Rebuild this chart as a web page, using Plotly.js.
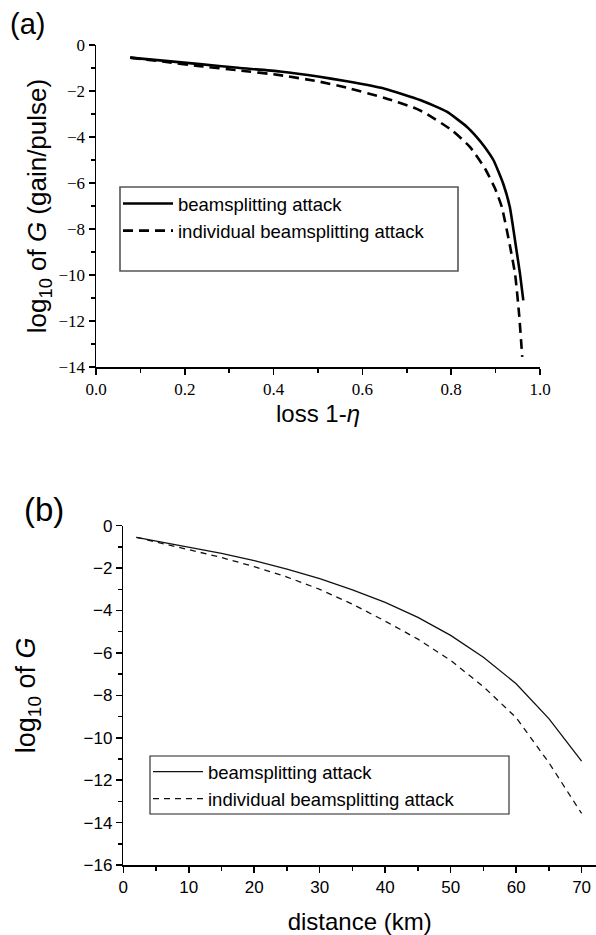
<!DOCTYPE html>
<html>
<head>
<meta charset="utf-8">
<script src="https://cdn.plot.ly/plotly-3.0.1.min.js"></script>
<style>html,body{margin:0;padding:0;background:#fff;}#chart{width:596px;height:935px;}</style>
</head>
<body>
<div id="chart"></div>
<script>
// Panel (a): gain vs loss 1-eta
var lossSolid = [0.077, 0.15, 0.234, 0.32, 0.414, 0.50, 0.565, 0.65, 0.73, 0.79, 0.835, 0.857, 0.875, 0.895, 0.917, 0.932, 0.947, 0.955, 0.9624];
var gainSolid = [-0.55, -0.68, -0.83, -0.99, -1.15, -1.37, -1.58, -1.90, -2.39, -2.90, -3.55, -3.99, -4.42, -5.00, -6.02, -7.04, -8.92, -9.95, -11.1];
var lossDashed = [0.077, 0.15, 0.234, 0.32, 0.414, 0.50, 0.565, 0.65, 0.715, 0.741, 0.801, 0.842, 0.876, 0.899, 0.914, 0.932, 0.944, 0.953, 0.960];
var gainDashed = [-0.55, -0.72, -0.92, -1.10, -1.31, -1.58, -1.86, -2.30, -2.72, -2.95, -3.70, -4.43, -5.37, -6.25, -7.05, -8.70, -9.98, -11.72, -13.56];

// Panel (b): gain vs distance (km)
var distance = [2, 5, 10, 15, 20, 25, 30, 35, 40, 45, 50, 55, 60, 65, 70];
var gainDistSolid = [-0.55, -0.72, -1.00, -1.30, -1.65, -2.05, -2.50, -3.03, -3.62, -4.32, -5.17, -6.20, -7.45, -9.10, -11.1];
var gainDistDashed = [-0.55, -0.78, -1.13, -1.50, -1.93, -2.42, -3.00, -3.70, -4.50, -5.35, -6.35, -7.59, -9.05, -11.17, -13.57];

var names = ['beamsplitting attack', 'individual beamsplitting attack'];

var W = 596, H = 935;
function px(x){return x / W;}
function py(y){return 1 - y / H;}

var sans = 'Liberation Sans, Arial, sans-serif';
var serif = 'Liberation Serif, Times New Roman, serif';

var traces = [
  {x: lossSolid, y: gainSolid, type: 'scatter', mode: 'lines', name: names[0],
   line: {color: '#000', width: 2.6, shape: 'spline', smoothing: 0.5}, xaxis: 'x', yaxis: 'y', legend: 'legend'},
  {x: lossDashed, y: gainDashed, type: 'scatter', mode: 'lines', name: names[1],
   line: {color: '#000', width: 2.6, dash: '10px,6px', shape: 'spline', smoothing: 0.5}, xaxis: 'x', yaxis: 'y', legend: 'legend'},
  {x: distance, y: gainDistSolid, type: 'scatter', mode: 'lines', name: names[0],
   line: {color: '#111', width: 1.3}, xaxis: 'x2', yaxis: 'y2', legend: 'legend2'},
  {x: distance, y: gainDistDashed, type: 'scatter', mode: 'lines', name: names[1],
   line: {color: '#111', width: 1.3, dash: '6px,5px'}, xaxis: 'x2', yaxis: 'y2', legend: 'legend2'}
];

function axisBase(fontFam){
  return {
    showgrid: false, zeroline: false, showline: true, linecolor: '#000', linewidth: 1.5,
    ticks: 'outside', ticklen: 6, tickwidth: 1.5, tickcolor: '#000',
    tickfont: {family: fontFam, size: 17, color: '#000'},
    fixedrange: true
  };
}

var xa = Object.assign(axisBase(serif), {
  domain: [px(96), px(540)], anchor: 'y', range: [0, 1.0], dtick: 0.2, tick0: 0,
  tickformat: '.1f',
  minor: {dtick: 0.1, ticklen: 4, tickwidth: 1.5, tickcolor: '#000', ticks: 'outside'},
  title: {text: 'loss 1-<i>η</i>', font: {family: sans, size: 24, color: '#000'}, standoff: 7}
});
var ya = Object.assign(axisBase(serif), {
  domain: [py(367), py(45)], anchor: 'x', range: [-14, 0], dtick: 2, tick0: 0,
  minor: {dtick: 1, ticklen: 4, tickwidth: 1.5, tickcolor: '#000', ticks: 'outside'},
  title: {text: 'log<sub>10</sub> of <i>G</i> (gain/pulse)', font: {family: sans, size: 26, color: '#000'}, standoff: 4}
});
var xa2 = Object.assign(axisBase(sans), {
  domain: [px(123.3), 1], anchor: 'y2', range: [0, 72.2], dtick: 10, tick0: 0,
  minor: {dtick: 5, ticklen: 4, tickwidth: 1.5, tickcolor: '#000', ticks: 'outside'},
  title: {text: 'distance (km)', font: {family: sans, size: 24, color: '#000'}, standoff: 18}
});
var ya2 = Object.assign(axisBase(sans), {
  domain: [py(865), py(525.7)], anchor: 'x2', range: [-16, 0], dtick: 2, tick0: 0,
  minor: {dtick: 1, ticklen: 4, tickwidth: 1.5, tickcolor: '#000', ticks: 'outside'},
  title: {text: 'log<sub>10</sub> of <i>G</i>', font: {family: sans, size: 27, color: '#000'}, standoff: 40}
});

var layout = {
  width: W, height: H,
  margin: {l: 0, r: 0, t: 0, b: 0},
  paper_bgcolor: '#fff', plot_bgcolor: '#fff',
  font: {family: sans, color: '#000'},
  xaxis: xa, yaxis: ya, xaxis2: xa2, yaxis2: ya2,
  legend: {
    x: px(118), y: py(185), xanchor: 'left', yanchor: 'top', itemwidth: 50,
    bgcolor: 'rgba(0,0,0,0)', borderwidth: 0,
    font: {family: sans, size: 18.5, color: '#000'}, tracegroupgap: 0
  },
  legend2: {
    x: px(148), y: py(753), xanchor: 'left', yanchor: 'top', itemwidth: 50,
    bgcolor: 'rgba(0,0,0,0)', borderwidth: 0,
    font: {family: sans, size: 18.5, color: '#000'}, tracegroupgap: 0
  },
  shapes: [
    {type: 'rect', xref: 'paper', yref: 'paper', x0: px(120), x1: px(458), y0: py(271), y1: py(187),
     line: {color: '#555', width: 1.6}, fillcolor: 'rgba(0,0,0,0)', layer: 'below'},
    {type: 'rect', xref: 'paper', yref: 'paper', x0: px(150), x1: px(509), y0: py(814), y1: py(756),
     line: {color: '#222', width: 1.1}, fillcolor: 'rgba(0,0,0,0)', layer: 'below'}
  ],
  annotations: [
    {text: '(a)', xref: 'paper', yref: 'paper', x: px(27), y: py(24), xanchor: 'center', yanchor: 'middle',
     showarrow: false, font: {family: sans, size: 29, color: '#000'}},
    {text: '(b)', xref: 'paper', yref: 'paper', x: px(44), y: py(509), xanchor: 'center', yanchor: 'middle',
     showarrow: false, font: {family: sans, size: 33, color: '#000'}}
  ],
  showlegend: true
};

Plotly.newPlot('chart', traces, layout, {displayModeBar: false, staticPlot: true});
</script>
</body>
</html>
